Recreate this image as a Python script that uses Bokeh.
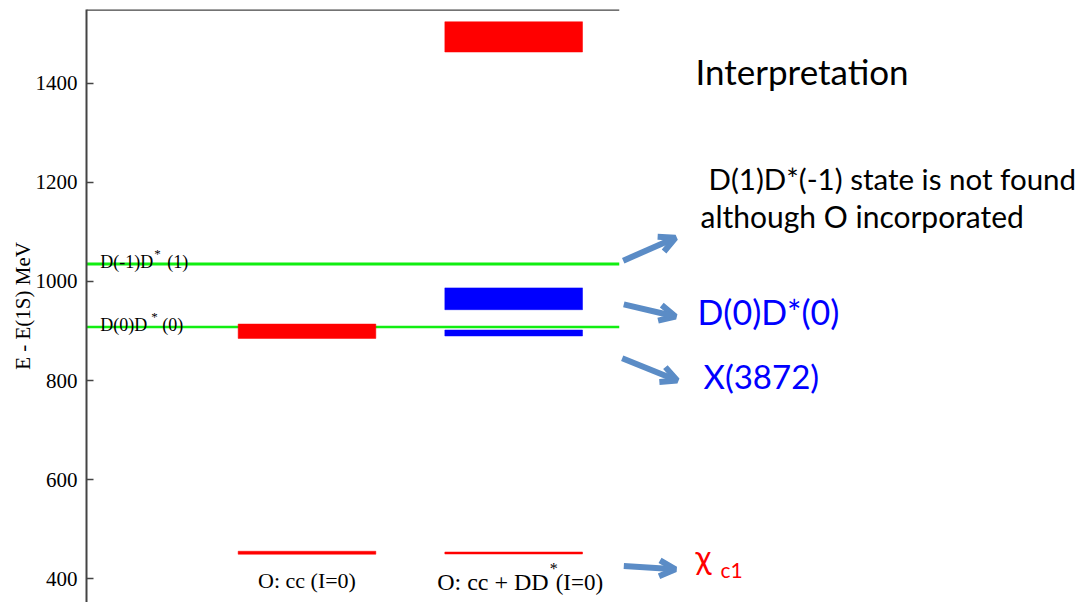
from bokeh.plotting import figure
from bokeh.models import Range1d, FixedTicker, Span, Arrow, OpenHead
from bokeh.layouts import row
from bokeh.core.properties import value
from bokeh.embed import file_html
from bokeh.resources import INLINE

# ---------------- data ----------------
categories = ["O: cc (I=0)", "O: cc + DD* (I=0)"]
cat_pos = [1, 2]

# energy levels (MeV above 1S): column index, low, high, colour
level_col = [1, 1, 2, 2, 2, 2]
level_lo = [885, 449.5, 1463, 943, 890, 450]
level_hi = [914, 455.5, 1524, 987, 902, 454]
level_color = ["#ff0000", "#ff0000", "#ff0000", "#0000ff", "#0000ff", "#ff0000"]

# thresholds
threshold_names = ["D(-1)D*(1)", "D(0)D*(0)"]
threshold_E = [1035, 908]
threshold_width = [3, 2.5]

y_ticks = [400, 600, 800, 1000, 1200, 1400]

SERIF = "Liberation Serif"
SANS = "Lato"

# ---------------- left (level diagram) ----------------
p = figure(width=620, height=602, x_range=Range1d(-0.0668, 2.512),
           y_range=Range1d(352.1, 1548.8), output_backend="svg",
           toolbar_location=None, x_axis_location=None,
           min_border_left=86, min_border_right=1, min_border_top=9,
           min_border_bottom=0, outline_line_color=None)
p.xgrid.visible = False
p.ygrid.visible = False

ax = p.yaxis[0]
ax.ticker = FixedTicker(ticks=y_ticks)
ax.minor_tick_line_color = None
ax.major_tick_in = 7
ax.major_tick_out = 0
ax.major_tick_line_width = 1.5
ax.major_tick_line_color = "#444444"
ax.axis_line_width = 2
ax.axis_line_color = "#444444"
ax.major_label_text_font = SERIF
ax.major_label_text_font_size = "21px"
ax.major_label_text_color = "black"
ax.major_label_standoff = 9
ax.axis_label = "E - E(1S) MeV"
ax.axis_label_text_font = SERIF
ax.axis_label_text_font_style = "normal"
ax.axis_label_text_font_size = "21px"
ax.axis_label_text_color = "black"
ax.axis_label_standoff = -2

# top frame line
p.add_layout(Span(location=1548.8, dimension="width", line_color="#444444", line_width=2.5))

# thresholds (green lines)
for e, w in zip(threshold_E, threshold_width):
    p.segment(x0=[-0.0668], x1=[2.512], y0=[e], y1=[e], line_color="#11ee11", line_width=w)

# levels
bw = 0.666
left = [cat_pos[c - 1] - bw / 2 for c in level_col]
right = [cat_pos[c - 1] + bw / 2 for c in level_col]
p.quad(left=left, right=right, bottom=level_lo, top=level_hi,
       fill_color=level_color, line_color=level_color, line_alpha=0.5, line_width=1)

# threshold labels with superscript star
def serif_text(fig, x, y, txt, size, dx=0, dy=0, align="left"):
    fig.text(x=[x], y=[y], text=[txt], text_font=value(SERIF), text_font_size=size,
             text_color="black", text_align=align, text_baseline="alphabetic",
             x_offset=dx, y_offset=dy)

lab_parts = [("D(-1)D", "(1)", 54, 67), ("D(0)D", "(0)", 51, 62)]
for (a, b, ds, db), e in zip(lab_parts, threshold_E):
    serif_text(p, 0, e, a, "18px", 0, -2)
    serif_text(p, 0, e, "*", "13px", ds, -11)
    serif_text(p, 0, e, b, "18px", db, -2)

# category labels
serif_text(p, cat_pos[0], 380.4, categories[0], "22px", 0, -8, "center")
serif_text(p, cat_pos[1], 375, "O: cc + DD", "24px", 35, -9, "right")
serif_text(p, cat_pos[1], 375, "*", "16px", 36, -23, "left")
serif_text(p, cat_pos[1], 375, "(I=0)", "23px", 42, -9, "left")

# ---------------- right (interpretation) ----------------
q = figure(width=464, height=602, x_range=Range1d(0, 464), y_range=Range1d(602, 0),
           output_backend="svg", toolbar_location=None,
           x_axis_location=None, y_axis_location=None,
           min_border=0, outline_line_color=None)
q.xgrid.visible = False
q.ygrid.visible = False

notes_text = ["Interpretation", "D(1)D*(-1) state is not found", "although O incorporated",
              "D(0)D*(0)", "X(3872)", "\u03c7", "c1"]
notes_x = [75, 88, 80, 77, 83, 75, 100]
notes_y = [62, 172, 210, 307, 372, 555, 568]
notes_size = ["35px", "29.5px", "30px", "34px", "33px", "33px", "21px"]
notes_color = ["black", "black", "black", "#0000ff", "#0000ff", "#ff0000", "#ff0000"]
for t, x, y, s, c in zip(notes_text, notes_x, notes_y, notes_size, notes_color):
    q.text(x=[x], y=[y], text=[t], text_font=value(SANS), text_font_size=s,
           text_color=c, text_align="left", text_baseline="alphabetic")

arrows = [((2.7, 255), (55, 231.7)), ((3.3, 299.3), (55, 311.7)),
          ((1.7, 354), (56.7, 376.7)), ((3.3, 565), (55, 568.3))]
for (x0, y0), (x1, y1) in arrows:
    q.add_layout(Arrow(x_start=x0, y_start=y0, x_end=x1, y_end=y1,
                       line_color="#5b8cc6", line_width=6,
                       end=OpenHead(size=16, line_color="#5b8cc6", line_width=6)))

layout = row(p, q)
open("out.html", "w").write(file_html(layout, INLINE))
